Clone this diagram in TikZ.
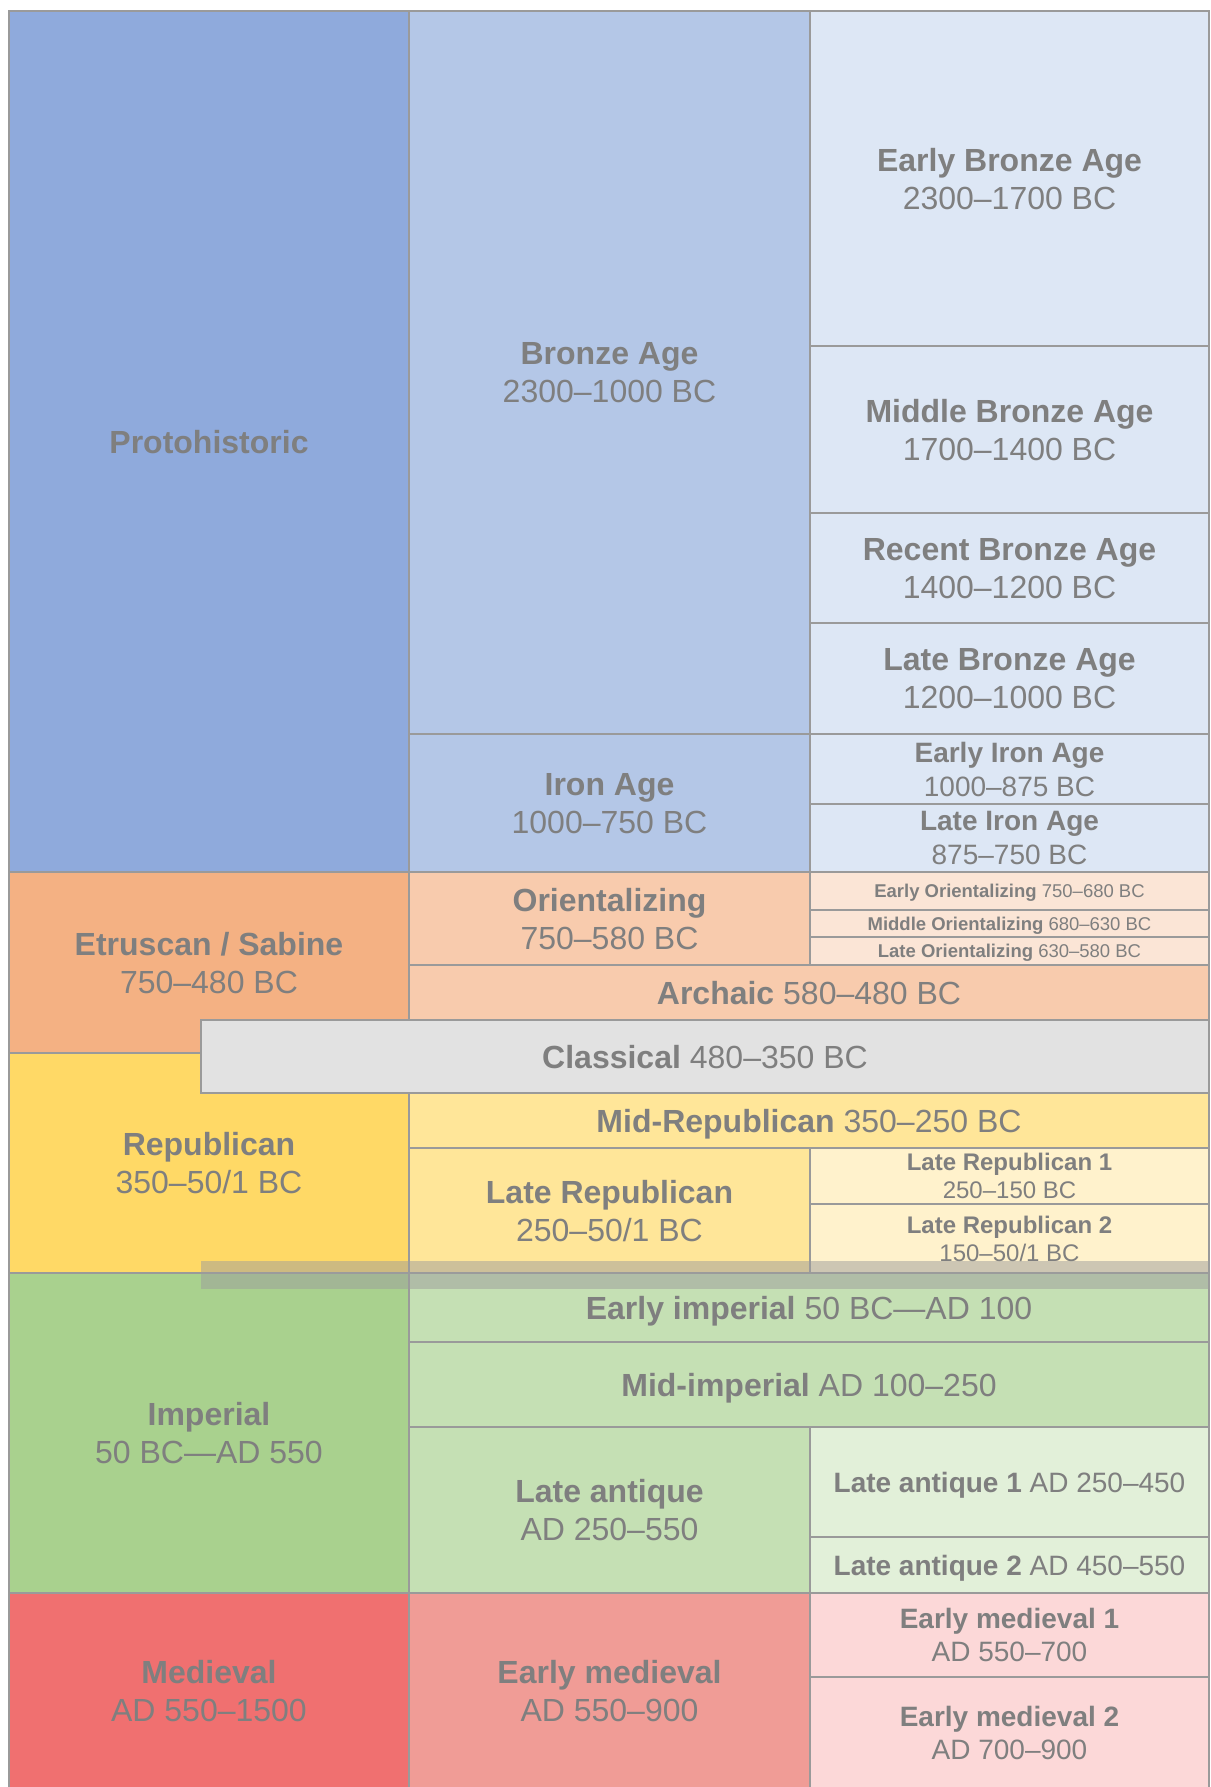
\documentclass[tikz,border=0pt]{standalone}
\usepackage{fontspec}
\setmainfont{Liberation Sans}
\definecolor{protoblue}{HTML}{8FAADC}
\definecolor{bronzeblue}{HTML}{B4C7E7}
\definecolor{paleblue}{HTML}{DDE7F5}
\definecolor{etrusc}{HTML}{F4B183}
\definecolor{orient}{HTML}{F8CBAD}
\definecolor{paleorient}{HTML}{FBE5D6}
\definecolor{classgray}{HTML}{E2E2E2}
\definecolor{repyellow}{HTML}{FFD966}
\definecolor{midyellow}{HTML}{FFE699}
\definecolor{paleyellow}{HTML}{FFF2CC}
\definecolor{impgreen}{HTML}{A9D18E}
\definecolor{midgreen}{HTML}{C5E0B4}
\definecolor{palegreen}{HTML}{E2F0D9}
\definecolor{medred}{HTML}{F07070}
\definecolor{midred}{HTML}{F09C96}
\definecolor{palered}{HTML}{FCD8D8}
\definecolor{txtgray}{HTML}{7F7F7F}
\definecolor{linegray}{HTML}{9A9A9A}
\definecolor{bandgray}{HTML}{9C9C9C}
\newcommand{\era}[8][]{%
  \node[cell, #1, fill=#6, minimum width={#4-#2}, minimum height={#5-#3}]
    (#7) at ({(#2+#4)/2},{(#3+#5)/2}) {#8};}

\begin{document}
\begin{tikzpicture}[x=1pt, y=-1pt,
	cell/.style={draw=linegray, line width=2.5pt, inner sep=0pt, outer sep=0pt,
		align=center, text=txtgray, text depth=0pt,
		font=\fontsize{32}{38}\selectfont},
	mid/.style={font=\fontsize{28}{34}\selectfont},
	small/.style={font=\fontsize{24}{28}\selectfont},
	tiny/.style={font=\fontsize{18.5}{22}\selectfont}]
\useasboundingbox (0,0) rectangle (1210,1787);
\fill[white] (0,0) rectangle (1210,1787);
% first column
\era{9}{11}{409}{872}{protoblue}{proto}{\textbf{Protohistoric}}
\era{9}{872}{409}{1053}{etrusc}{etruscan}{\textbf{Etruscan / Sabine}\\750–480 BC}
\era{9}{1053}{409}{1273}{repyellow}{republican}{\textbf{Republican}\\350–50/1 BC}
\era{9}{1273}{409}{1593}{impgreen}{imperial}{\textbf{Imperial}\\50 BC—AD 550}
\era{9}{1593}{409}{1789}{medred}{medieval}{\textbf{Medieval}\\AD 550–1500}
% second column
\era{409}{11}{810}{734}{bronzeblue}{bronze}{\textbf{Bronze Age}\\2300–1000 BC}
\era{409}{734}{810}{872}{bronzeblue}{iron}{\textbf{Iron Age}\\1000–750 BC}
\era{409}{872}{810}{965}{orient}{orientalizing}{\textbf{Orientalizing}\\750–580 BC}
\era{409}{965}{1209}{1020}{orient}{archaic}{\textbf{Archaic} 580–480 BC}
\era{409}{1093}{1209}{1148}{midyellow}{midrep}{\textbf{Mid-Republican} 350–250 BC}
\era{409}{1148}{810}{1273}{midyellow}{laterep}{\textbf{Late Republican}\\250–50/1 BC}
\era{409}{1273}{1209}{1342}{midgreen}{earlyimp}{\textbf{Early imperial} 50 BC—AD 100}
\era{409}{1342}{1209}{1427}{midgreen}{midimp}{\textbf{Mid-imperial} AD 100–250}
\era{409}{1427}{810}{1593}{midgreen}{lateant}{\textbf{Late antique}\\AD 250–550}
\era{409}{1593}{810}{1789}{midred}{earlymed}{\textbf{Early medieval}\\AD 550–900}
% third column
\era{810}{11}{1209}{346}{paleblue}{earlybronze}{\textbf{Early Bronze Age}\\2300–1700 BC}
\era{810}{346}{1209}{513}{paleblue}{middlebronze}{\textbf{Middle Bronze Age}\\1700–1400 BC}
\era{810}{513}{1209}{623}{paleblue}{recentbronze}{\textbf{Recent Bronze Age}\\1400–1200 BC}
\era{810}{623}{1209}{734}{paleblue}{latebronze}{\textbf{Late Bronze Age}\\1200–1000 BC}
\era[mid]{810}{734}{1209}{804}{paleblue}{earlyiron}{\textbf{Early Iron Age}\\1000–875 BC}
\era[mid]{810}{804}{1209}{872}{paleblue}{lateiron}{\textbf{Late Iron Age}\\875–750 BC}
\era[tiny]{810}{872}{1209}{910}{paleorient}{earlyorient}{\textbf{Early Orientalizing} 750–680 BC}
\era[tiny]{810}{910}{1209}{937}{paleorient}{middleorient}{\textbf{Middle Orientalizing} 680–630 BC}
\era[tiny]{810}{937}{1209}{965}{paleorient}{lateorient}{\textbf{Late Orientalizing} 630–580 BC}
\era[small]{810}{1148}{1209}{1204}{paleyellow}{laterepone}{\textbf{Late Republican 1}\\250–150 BC}
\era[small]{810}{1204}{1209}{1273}{paleyellow}{lateteptwo}{\textbf{Late Republican 2}\\150–50/1 BC}
\era[mid]{810}{1427}{1209}{1537}{palegreen}{lateantone}{\textbf{Late antique 1} AD 250–450}
\era[mid]{810}{1537}{1209}{1593}{palegreen}{lateanttwo}{\textbf{Late antique 2} AD 450–550}
\era[mid,font=\fontsize{28}{33}\selectfont]{810}{1593}{1209}{1677}{palered}{earlymedone}{\textbf{Early medieval 1}\\AD 550–700}
\era[mid,font=\fontsize{28}{33}\selectfont]{810}{1677}{1209}{1789}{palered}{earlymedtwo}{\textbf{Early medieval 2}\\AD 700–900}
% overlapping band
\era{201}{1020}{1209}{1093}{classgray}{classical}{\textbf{Classical} 480–350 BC}
\node[fill=bandgray, opacity=0.5, inner sep=0pt, minimum width=1009pt, minimum height=28pt]
	(shade) at (705.5,1275) {};
\end{tikzpicture}
\end{document}
